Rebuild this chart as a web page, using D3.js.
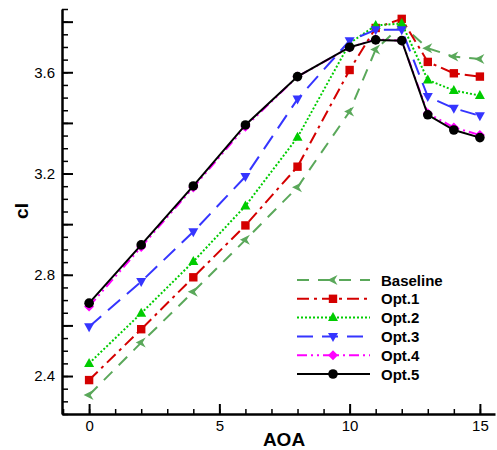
<!DOCTYPE html>
<html>
<head>
<meta charset="utf-8">
<script src="https://cdn.jsdelivr.net/npm/d3@7"></script>
<style>
  body { margin: 0; background: #fff; }
</style>
</head>
<body>
<div id="chart"></div>
<script>
// data
const aoa = [0, 2, 4, 6, 8, 10, 11, 12, 13, 14, 15];
const baseline = [2.325, 2.532, 2.733, 2.938, 3.146, 3.445, 3.69, 3.787, 3.695, 3.662, 3.652];
const opt1 = [2.384, 2.585, 2.79, 2.995, 3.227, 3.609, 3.775, 3.811, 3.641, 3.596, 3.583];
const opt2 = [2.450, 2.648, 2.852, 3.072, 3.343, 3.715, 3.785, 3.793, 3.57, 3.528, 3.508];
const opt3 = [2.595, 2.773, 2.970, 3.188, 3.494, 3.725, 3.768, 3.768, 3.504, 3.458, 3.428];
const opt4 = [2.675, 2.91, 3.145, 3.385, 3.583, 3.698, 3.73, 3.725, 3.438, 3.382, 3.352];
const opt5 = [2.688, 2.918, 3.151, 3.392, 3.583, 3.699, 3.728, 3.725, 3.432, 3.372, 3.342];

const seriesNames = ["Baseline", "Opt.1", "Opt.2", "Opt.3", "Opt.4", "Opt.5"];
const xTickLabels = [0, 5, 10, 15];
const yTickLabels = [2.4, 2.8, 3.2, 3.6];

const series = [
    {name: seriesNames[0], values: baseline, color: "#5aa85a", dash: "12,9", marker: "left"},
    {name: seriesNames[1], values: opt1, color: "#d40000", dash: "12,5,3,5", marker: "square"},
    {name: seriesNames[2], values: opt2, color: "#00cc00", dash: "2,2", marker: "up"},
    {name: seriesNames[3], values: opt3, color: "#3535ff", dash: "16,9", marker: "down"},
    {name: seriesNames[4], values: opt4, color: "#ff00ff", dash: "10,4,2,4,2,4", marker: "diamond"},
    {name: seriesNames[5], values: opt5, color: "#000000", dash: null, marker: "circle"}
];

const W = 497, H = 450;

const svg = d3.select("#chart")
    .append("svg")
    .attr("width", W)
    .attr("height", H)
    .style("font-family", "'Liberation Sans', Arial, sans-serif");

const x = d3.scaleLinear()
    .domain([-1.04, 15.58])
    .range([62, 495]);

const y = d3.scaleLinear()
    .domain([2.25, 3.85])
    .range([414, 9]);

// minor ticks
svg.append("g")
    .attr("transform", "translate(0,414)")
    .call(d3.axisBottom(x).tickValues(d3.range(-1, 16, 1)).tickSize(-5).tickFormat(""))
    .call(g => g.select(".domain").remove())
    .call(g => g.selectAll("line").attr("stroke-width", 1.5));

svg.append("g")
    .attr("transform", "translate(62,0)")
    .call(d3.axisLeft(y).tickValues(d3.range(45, 78, 1).map(v => v / 20)).tickSize(-6).tickFormat(""))
    .call(g => g.select(".domain").remove())
    .call(g => g.selectAll("line").attr("stroke-width", 1.5));

// major ticks with labels
svg.append("g") /* X axis */
    .attr("transform", "translate(0,414)")
    .call(d3.axisBottom(x).tickValues(xTickLabels).tickSize(-10).tickPadding(6).tickSizeOuter(0))
    .call(g => g.select(".domain").attr("stroke-width", 2.5))
    .call(g => g.selectAll("line").attr("stroke-width", 2))
    .call(g => g.selectAll("text").attr("font-size", 15).attr("fill", "#000").attr("font-family", null));

svg.append("g") /* Y axis */
    .attr("transform", "translate(62,0)")
    .call(d3.axisLeft(y).tickValues(d3.range(12, 20, 1).map(v => v / 5)).tickSize(-11).tickPadding(7).tickSizeOuter(0)
        .tickFormat(d => yTickLabels.some(t => Math.abs(t - d) < 1e-6) ? d3.format(".1f")(d) : ""))
    .call(g => g.select(".domain").attr("stroke-width", 2.5))
    .call(g => g.selectAll("line").attr("stroke-width", 2))
    .call(g => g.selectAll("text").attr("font-size", 15).attr("fill", "#000").attr("font-family", null));

// Titles
svg.append("text")
    .attr("x", 284)
    .attr("y", 446)
    .attr("text-anchor", "middle")
    .style("font-size", "19px")
    .style("font-weight", "bold")
    .text("AOA");

svg.append("text")
    .attr("transform", "translate(28,211) rotate(-90)")
    .attr("text-anchor", "middle")
    .style("font-size", "19px")
    .style("font-weight", "bold")
    .text("cl");

function drawMarker(g, type, color, cx, cy) {
    const s = 4.2;
    if (type === "circle") {
        g.append("circle").attr("cx", cx).attr("cy", cy).attr("r", 4.8).attr("fill", color);
    } else if (type === "square") {
        g.append("rect").attr("x", cx - s).attr("y", cy - s).attr("width", 2 * s).attr("height", 2 * s).attr("fill", color);
    } else {
        let pts;
        if (type === "up") pts = [[0, -5.5], [5, 3.5], [-5, 3.5]];
        if (type === "down") pts = [[0, 5.5], [5, -3.5], [-5, -3.5]];
        if (type === "diamond") pts = [[0, -5], [5, 0], [0, 5], [-5, 0]];
        if (type === "left") pts = [[-5.5, 0], [4.5, -5], [1.5, 0], [4.5, 5]];
        g.append("polygon")
            .attr("points", pts.map(p => [cx + p[0], cy + p[1]].join(",")).join(" "))
            .attr("fill", color);
    }
}

const line = d3.line()
    .x((d, i) => x(aoa[i]))
    .y(d => y(d));

series.forEach(s => {
    const g = svg.append("g");
    g.append("path")
        .datum(s.values)
        .attr("d", line)
        .attr("fill", "none")
        .attr("stroke", s.color)
        .attr("stroke-width", 2)
        .attr("stroke-dasharray", s.dash);
    s.values.forEach((v, i) => drawMarker(g, s.marker, s.color, x(aoa[i]), y(v)));
});

// Legend
const legend = svg.append("g");
series.forEach((s, i) => {
    const ly = 280 + i * 18.8;
    legend.append("line")
        .attr("x1", 297).attr("x2", 370)
        .attr("y1", ly).attr("y2", ly)
        .attr("stroke", s.color)
        .attr("stroke-width", 2)
        .attr("stroke-dasharray", s.dash);
    drawMarker(legend, s.marker, s.color, 333, ly);
    legend.append("text")
        .attr("x", 381)
        .attr("y", ly + 5.5)
        .style("font-size", "15px")
        .style("font-weight", "bold")
        .text(s.name);
});
</script>
</body>
</html>
